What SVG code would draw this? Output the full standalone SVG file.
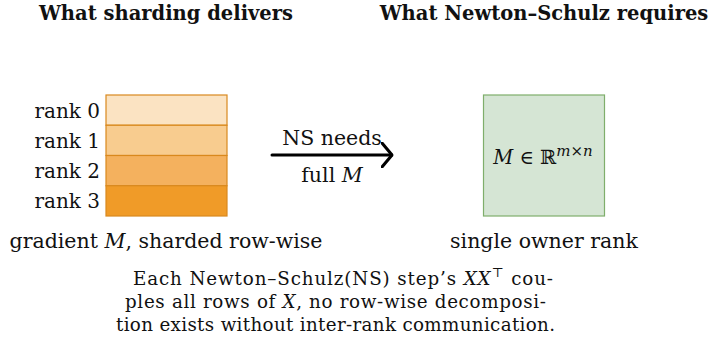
<svg xmlns="http://www.w3.org/2000/svg" width="713" height="354" viewBox="0 0 713 354">
  <style>
    text { font-family: "DejaVu Serif", "Liberation Serif", serif; fill: #111; }
    .title { font-size: 19.5px; font-weight: bold; text-anchor: middle; }
    .lbl { font-size: 20.5px; }
    .rank { font-size: 20px; text-anchor: end; }
    .cap { font-size: 18.3px; }
    .it { font-style: italic; }
    .shard { stroke: #D9891E; stroke-width: 1.2; }
    .conn { stroke: #000; stroke-width: 3; fill: none; stroke-linecap: round; stroke-linejoin: round; }
  </style>
  <defs>
    <marker id="chev" viewBox="0 0 12 26" refX="11" refY="13" markerWidth="12" markerHeight="26" markerUnits="userSpaceOnUse" orient="auto">
      <path d="M1,1 L11,13 L1,25" fill="none" stroke="#000" stroke-width="3" stroke-linecap="round" stroke-linejoin="round"/>
    </marker>
  </defs>

  <!-- column headings -->
  <text class="title" x="166" y="20">What sharding delivers</text>
  <text class="title" x="544" y="20">What Newton–Schulz requires</text>

  <!-- row-sharded gradient -->
  <g id="sharded-gradient">
    <rect class="shard" x="106" y="95" width="121" height="30.25" fill="#FBE3C2"/>
    <rect class="shard" x="106" y="125.25" width="121" height="30.25" fill="#F8CC8F"/>
    <rect class="shard" x="106" y="155.5" width="121" height="30.25" fill="#F4B15E"/>
    <rect class="shard" x="106" y="185.75" width="121" height="30.25" fill="#F09B28"/>
    <text class="rank" x="100" y="117.5">rank 0</text>
    <text class="rank" x="100" y="147.5">rank 1</text>
    <text class="rank" x="100" y="178">rank 2</text>
    <text class="rank" x="100" y="208">rank 3</text>
    <text class="lbl" x="166" y="248" text-anchor="middle">gradient <tspan class="it">M</tspan>, sharded row-wise</text>
  </g>

  <!-- full matrix on one rank -->
  <g id="full-matrix">
    <rect x="483.5" y="95" width="121" height="121" fill="#D5E5D4" stroke="#7FAE6B" stroke-width="1.2"/>
    <text x="543" y="164" text-anchor="middle" font-size="19.5"><tspan class="it">M</tspan> ∈ ℝ<tspan class="it" font-size="15" dy="-8">m</tspan><tspan font-size="15">×</tspan><tspan class="it" font-size="15">n</tspan></text>
    <text class="lbl" x="544" y="248" text-anchor="middle">single owner rank</text>
  </g>

  <!-- connector -->
  <g id="connectors">
    <path class="conn" d="M272,155 H392" marker-end="url(#chev)"/>
    <text class="lbl" x="332" y="145" text-anchor="middle">NS needs</text>
    <text class="lbl" x="332" y="182" text-anchor="middle">full <tspan class="it">M</tspan></text>
  </g>

  <!-- explanatory note -->
  <g id="note">
    <text class="cap" x="133" y="285" textLength="420" lengthAdjust="spacing">Each Newton–Schulz(NS) step’s <tspan class="it">XX</tspan><tspan font-size="13" dy="-8">⊤</tspan><tspan dy="8"> cou-</tspan></text>
    <text class="cap" x="125" y="308" textLength="421" lengthAdjust="spacing">ples all rows of <tspan class="it">X</tspan>, no row-wise decomposi-</text>
    <text class="cap" x="116" y="331" textLength="439" lengthAdjust="spacing">tion exists without inter-rank communication.</text>
  </g>
</svg>
